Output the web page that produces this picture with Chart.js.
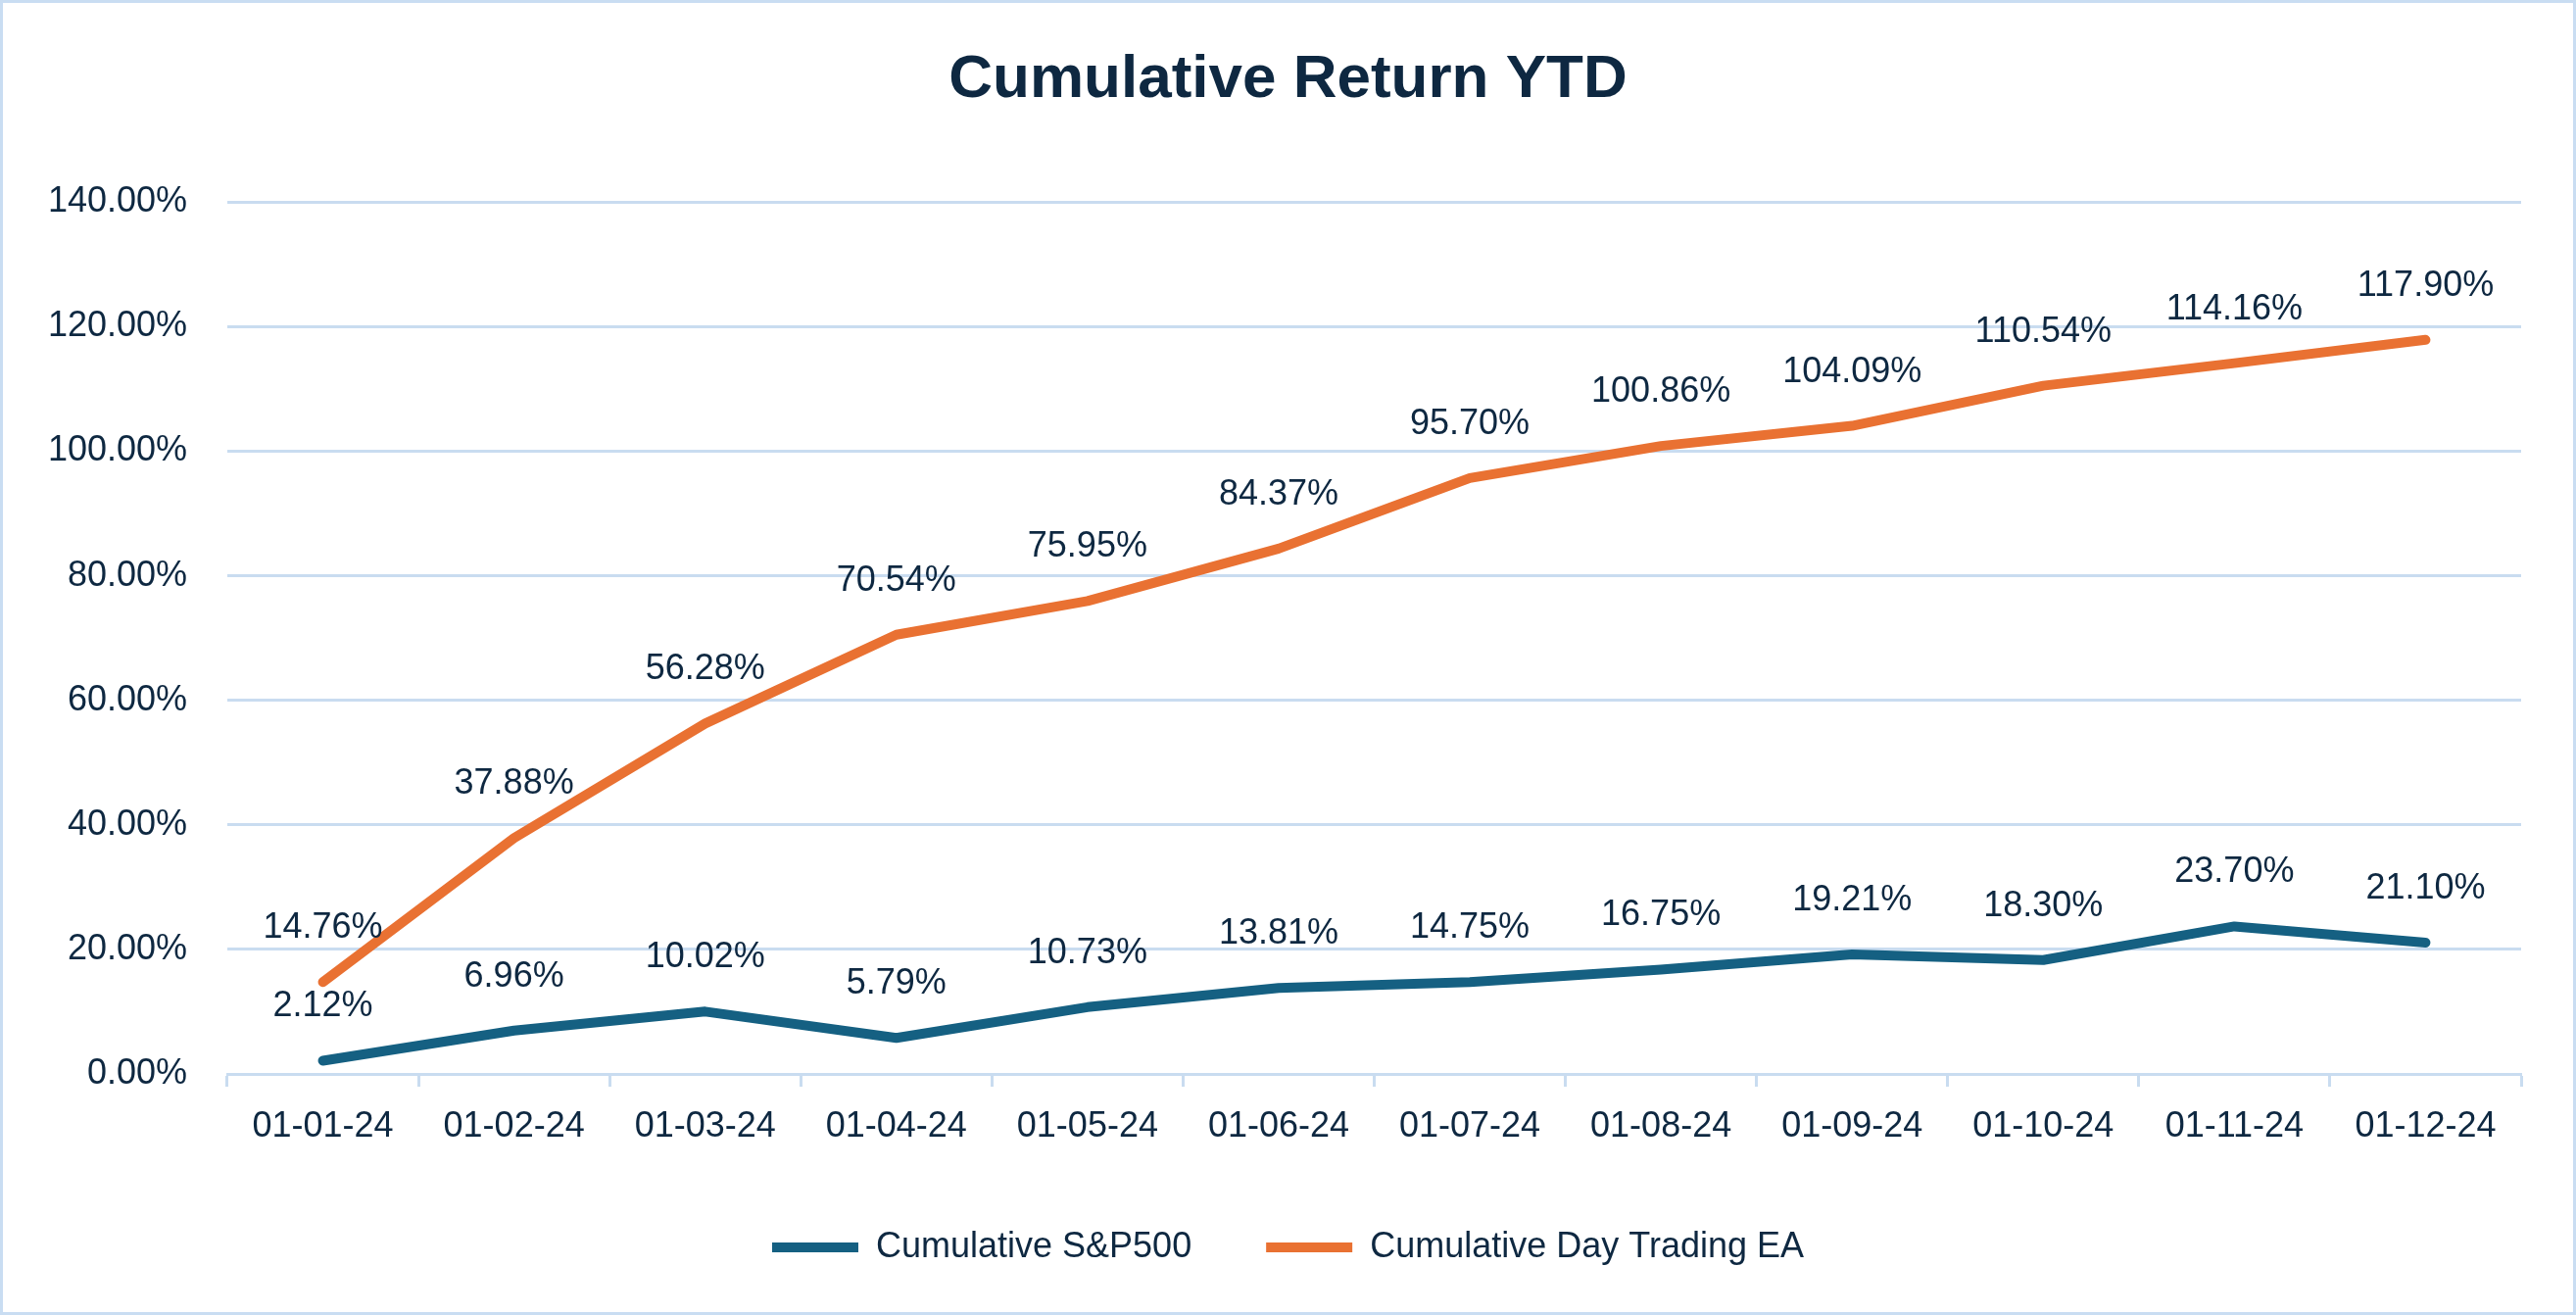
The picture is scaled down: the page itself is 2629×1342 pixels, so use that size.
<!DOCTYPE html>
<html>
<head>
<meta charset="utf-8">
<title>Cumulative Return YTD</title>
<script src="https://cdn.jsdelivr.net/npm/chart.js@4.4.1/dist/chart.umd.min.js"></script>
<style>
    html, body { margin: 0; padding: 0; background: #ffffff; }
    #wrap { position: relative; width: 2629px; height: 1342px; }
</style>
</head>
<body>
<div id="wrap"><canvas id="returnChart"></canvas></div>
<script>
// Chart data
const months = ['01-01-24', '01-02-24', '01-03-24', '01-04-24', '01-05-24', '01-06-24',
                '01-07-24', '01-08-24', '01-09-24', '01-10-24', '01-11-24', '01-12-24'];
const sp500 = [2.12, 6.96, 10.02, 5.79, 10.73, 13.81, 14.75, 16.75, 19.21, 18.30, 23.70, 21.10];
const dayTradingEA = [14.76, 37.88, 56.28, 70.54, 75.95, 84.37, 95.70, 100.86, 104.09, 110.54, 114.16, 117.90];
const seriesNames = ['Cumulative S&P500', 'Cumulative Day Trading EA'];
const yTicks = [0, 20, 40, 60, 80, 100, 120, 140];

const textColor = '#0E2841';
const gridColor = '#C9DCF0';
const bodyFont = '"Liberation Sans", Arial, sans-serif';

// Draws the value above each point
const pointLabels = {
    id: 'pointLabels',
    afterDatasetsDraw(chart) {
        const ctx = chart.ctx;
        ctx.save();
        ctx.font = '36px ' + bodyFont;
        ctx.fillStyle = textColor;
        ctx.textAlign = 'center';
        ctx.textBaseline = 'middle';
        chart.data.datasets.forEach((ds, i) => {
            chart.getDatasetMeta(i).data.forEach((pt, j) => {
                ctx.fillText(ds.data[j].toFixed(2) + '%', pt.x, pt.y - 55);
            });
        });
        ctx.restore();
    }
};

// Light blue frame round the chart
const frame = {
    id: 'frame',
    beforeDraw(chart) {
        const ctx = chart.ctx;
        ctx.save();
        ctx.fillStyle = '#ffffff';
        ctx.fillRect(0, 0, chart.width, chart.height);
        ctx.strokeStyle = '#C9DDF2';
        ctx.lineWidth = 3;
        ctx.strokeRect(1.5, 1.5, chart.width - 3, chart.height - 3);
        ctx.restore();
    }
};

const ctx = document.getElementById('returnChart').getContext('2d');
new Chart(ctx, {
    type: 'line',
    data: {
        labels: months,
        datasets: [{
            label: seriesNames[0],
            data: sp500,
            borderColor: '#156082',
            backgroundColor: '#156082',
            borderWidth: 10,
            borderCapStyle: 'round',
            borderJoinStyle: 'round',
            pointRadius: 0,
            tension: 0
        }, {
            label: seriesNames[1],
            data: dayTradingEA,
            borderColor: '#E97132',
            backgroundColor: '#E97132',
            borderWidth: 10,
            borderCapStyle: 'round',
            borderJoinStyle: 'round',
            pointRadius: 0,
            tension: 0
        }]
    },
    options: {
        responsive: true,
        maintainAspectRatio: false,
        animation: false,
        layout: {
            padding: { top: 0, left: 0, right: 0, bottom: 41 }
        },
        scales: {
            x: {
                offset: true,
                grid: {
                    offset: true,
                    drawOnChartArea: false,
                    drawTicks: true,
                    tickLength: 13,
                    tickWidth: 3,
                    tickColor: gridColor
                },
                border: { display: true, color: gridColor, width: 3 },
                ticks: {
                    color: textColor,
                    font: { family: bodyFont, size: 36 },
                    padding: 19,
                    maxRotation: 0
                },
                afterFit(scale) { scale.height = 83; }
            },
            y: {
                min: 0,
                max: 140,
                afterBuildTicks(scale) {
                    scale.ticks = yTicks.map(v => ({ value: v }));
                },
                grid: {
                    color: gridColor,
                    lineWidth: 3,
                    drawTicks: false
                },
                border: { display: false },
                ticks: {
                    color: textColor,
                    font: { family: bodyFont, size: 36 },
                    padding: 41,
                    callback: function(value) {
                        return value.toFixed(2) + '%';
                    }
                },
                afterFit(scale) { scale.width = 232; }
            },
            // empty right-hand margin so the title and legend stay centred on the page
            yRight: {
                position: 'right',
                min: 0,
                max: 140,
                grid: { display: false, drawTicks: false },
                border: { display: false },
                ticks: { display: false },
                afterFit(scale) { scale.width = 56; }
            }
        },
        plugins: {
            title: {
                display: true,
                text: 'Cumulative Return YTD',
                color: textColor,
                font: { family: bodyFont, size: 62, weight: 'bold' },
                padding: { top: 45, bottom: 87 }
            },
            legend: {
                position: 'bottom',
                labels: {
                    color: textColor,
                    font: { family: bodyFont, size: 36 },
                    usePointStyle: true,
                    pointStyle: 'line',
                    pointStyleWidth: 88,
                    padding: 76
                }
            },
            tooltip: { enabled: false }
        }
    },
    plugins: [frame, pointLabels]
});
</script>
</body>
</html>
